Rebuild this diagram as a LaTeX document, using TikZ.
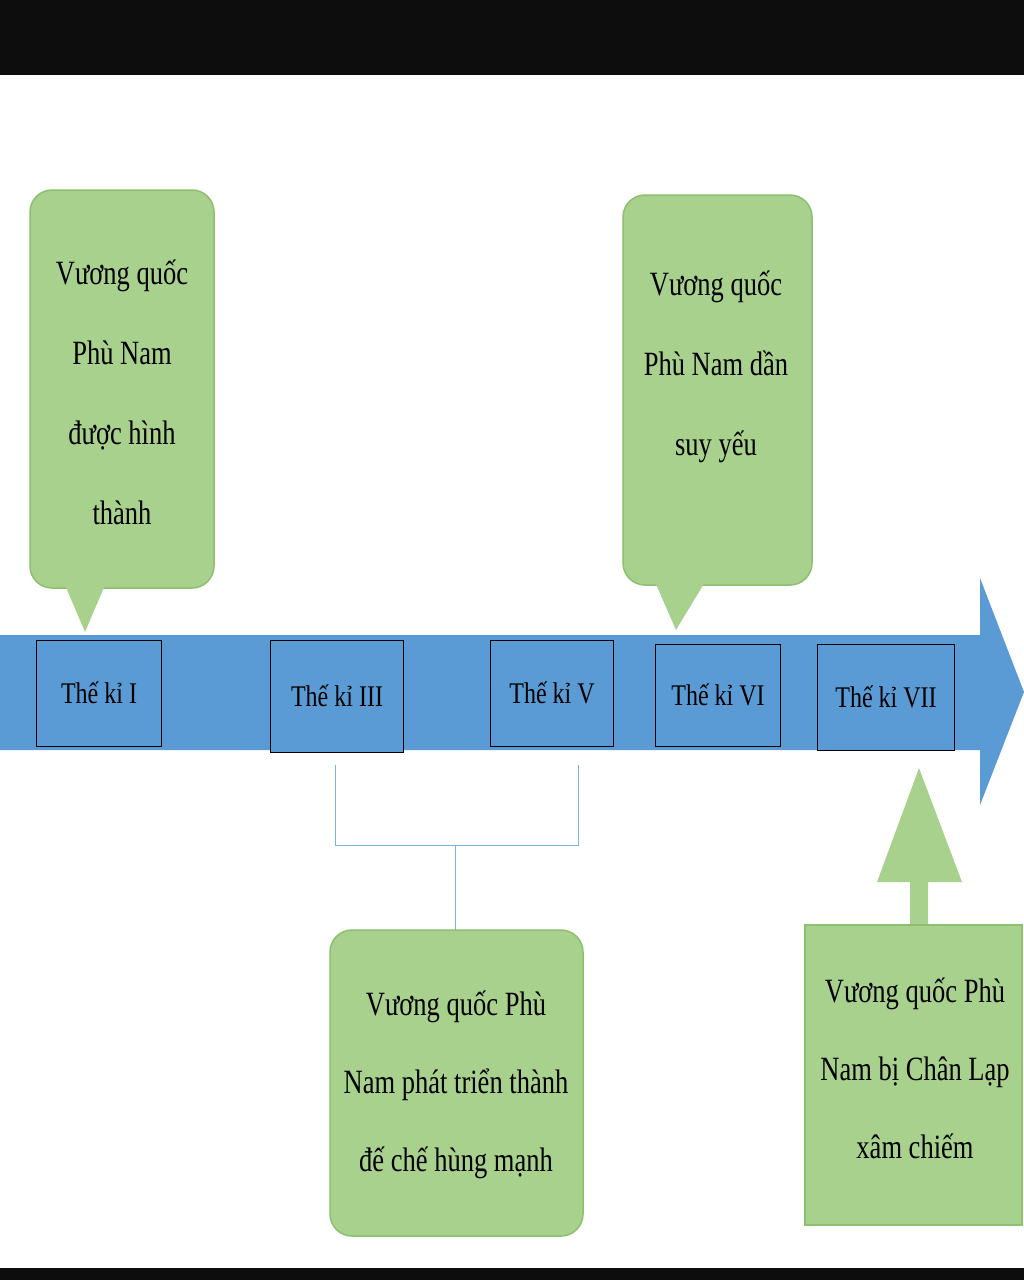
\documentclass[tikz,border=0pt]{standalone}
\usepackage{fontspec}
\setmainfont{Liberation Serif}
\definecolor{bandblue}{HTML}{5B9BD5}
\definecolor{callgreen}{HTML}{A9D18E}
\definecolor{calledge}{HTML}{8CBF6E}
\definecolor{bracecol}{HTML}{7FB2E0}
\tikzset{
  kibox/.style={draw=black, thick, fill=bandblue, font=\fontsize{30}{36}\selectfont, xscale=.8},
  calltext/.style={align=center, font=\fontsize{34}{80}\selectfont, xscale=.78},
  greenshape/.style={fill=callgreen, draw=calledge, line width=1.5pt}
}
\begin{document}
\begin{tikzpicture}[x=1pt,y=-1pt]
\useasboundingbox (0,0) rectangle (1024,1280);
\fill[black!95] (0,0) rectangle (1024,75);
\fill[black!95] (0,1268) rectangle (1024,1280);

% time arrow
\fill[bandblue] (0,635) -- (980,635) -- (980,578) -- (1024,692) -- (980,805) -- (980,750) -- (0,750) -- cycle;

\node[kibox, minimum width=157pt, minimum height=106pt] (k1) at (99,693) {Thế kỉ I};
\node[kibox, minimum width=167pt, minimum height=112pt] (k3) at (337,696) {Thế kỉ III};
\node[kibox, minimum width=154pt, minimum height=106pt] (k5) at (552,693) {Thế kỉ V};
\node[kibox, minimum width=157pt, minimum height=102pt] (k6) at (718,695) {Thế kỉ VI};
\node[kibox, minimum width=172pt, minimum height=106pt] (k7) at (886,697) {Thế kỉ VII};

% callout 1
\draw[greenshape, rounded corners=22pt] (30,190) rectangle (214,588);
\fill[callgreen] (65,585) -- (85,632) -- (105,585) -- cycle;
\node[calltext] (c1) at (122,392) {Vương quốc\\Phù Nam\\được hình\\thành};

% callout 2
\draw[greenshape, rounded corners=22pt] (623,195) rectangle (812,585);
\fill[callgreen] (655,582) -- (676,630) -- (705,582) -- cycle;
\node[calltext] (c2) at (716,367) {Vương quốc\\Phù Nam dần\\suy yếu};

% brace
\coordinate (bl) at (335,765);
\coordinate (br) at (578,765);
\draw[bracecol, thick] (bl) -- (335,845) -- (578,845) -- (br);
\draw[bracecol, thick] (455,845) -- (455,930);

% box 3
\draw[greenshape, rounded corners=22pt] (330,930) rectangle (583,1236);
\node[calltext, font=\fontsize{34}{78}\selectfont] (c3) at (456,1085) {Vương quốc Phù\\Nam phát triển thành\\đế chế hùng mạnh};

% box 4 with up arrow
\fill[callgreen] (910,928) -- (910,882) -- (877,882) -- (919,768) -- (962,882) -- (928,882) -- (928,928) -- cycle;
\draw[greenshape] (805,925) rectangle (1022,1225);
\node[calltext, font=\fontsize{34}{78}\selectfont] (c4) at (915,1068) {Vương quốc Phù\\Nam bị Chân Lạp\\xâm chiếm};
\end{tikzpicture}
\end{document}
